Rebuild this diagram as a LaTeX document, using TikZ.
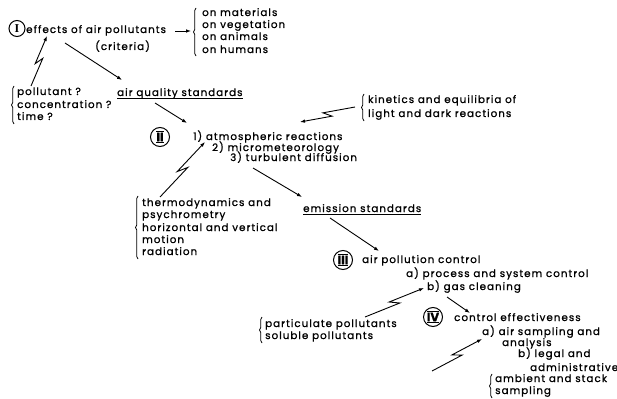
\documentclass[tikz,border=0pt]{standalone}
\usepackage{fontspec}
\setmainfont{Poppins}[LetterSpace=10,FakeBold=1]
\newfontfamily\romfont{Liberation Serif}
\usetikzlibrary{calc,arrows.meta,decorations.pathreplacing}
\newcommand{\barnum}[1]{$\overline{\underline{\mathbf{#1}}}$}
\tikzset{
  txt/.style={anchor=base west,inner sep=0pt,font=\fontsize{10.3}{11}\selectfont},
  rom/.style={circle,draw,line width=1pt,inner sep=0pt,minimum width=#1,minimum height=#1,font=\fontsize{12}{12}\selectfont},
  arr/.style={line width=0.9pt,-{Latex[length=5pt,width=3.6pt]}},
  bolt/.style={line width=0.9pt,-{Latex[length=5pt,width=3.6pt]},to path={
    -- ($(\tikztostart)!0.57!(\tikztotarget)!2.8pt!-90:(\tikztotarget)$)
    -- ($(\tikztostart)!0.43!(\tikztotarget)!2.8pt!90:(\tikztotarget)$)
    -- (\tikztotarget)}},
  brc/.style={line width=0.8pt,decorate,decoration={brace,amplitude=2.5pt}},
  ul/.style={line width=0.8pt}
}
\begin{document}
\begin{tikzpicture}[x=1pt,y=-1pt]
\useasboundingbox[fill=white] (0,0) rectangle (617,398);
% I
\node[rom=16pt] (cI) at (17,28.5) {\romfont\bfseries I};
\node[txt] (eff) at (26,33) {effects of air pollutants};
\node[txt] (crit) at (95,50) {(criteria)};
\node[txt] (mat) at (202,16) {on materials};
\node[txt] (veg) at (202,28) {on vegetation};
\node[txt] (ani) at (202,40) {on animals};
\node[txt] (hum) at (202,53) {on humans};
\draw[brc] (196,56) -- (196,8);
\node[txt] (pol) at (17,95) {pollutant ?};
\node[txt] (conc) at (17,108) {concentration ?};
\node[txt] (tim) at (17,120) {time ?};
\draw[brc] (14,124) -- (14,86);
\node[txt] (aqs) at (117,96) {air quality standards};
\draw[ul] ([yshift=-2.5pt]aqs.base west) -- ([yshift=-2.5pt]aqs.base east);
% II
\node[rom=19pt] (cII) at (160,137) {\barnum{II}};
\node[txt] (r1) at (193,140) {1) atmospheric reactions};
\node[txt] (r2) at (212,151) {2) micrometeorology};
\node[txt] (r3) at (230,161) {3) turbulent diffusion};
\node[txt] (kin) at (368,103) {kinetics and equilibria of};
\node[txt] (lig) at (368,117) {light and dark reactions};
\draw[brc] (364,121) -- (364,94);
\node[txt] (th1) at (142,206) {thermodynamics and};
\node[txt] (th2) at (142,218) {psychrometry};
\node[txt] (th3) at (142,231) {horizontal and vertical};
\node[txt] (th4) at (142,243) {motion};
\node[txt] (th5) at (142,255) {radiation};
\draw[brc] (138,259) -- (138,196);
\node[txt] (ems) at (303,212) {emission standards};
\draw[ul] ([yshift=-2.5pt]ems.base west) -- ([yshift=-2.5pt]ems.base east);
% III
\node[rom=19pt] (cIII) at (343,260) {\barnum{III}};
\node[txt] (apc) at (362,263) {air pollution control};
\node[txt] (pa) at (406,277) {a) process and system control};
\node[txt] (pb) at (427,290) {b) gas cleaning};
\node[txt] (par) at (265,327) {particulate pollutants};
\node[txt] (sol) at (265,339) {soluble pollutants};
\draw[brc] (262,343) -- (262,317);
% IV
\node[rom=19pt] (cIV) at (433,317) {\barnum{IV}};
\node[txt] (ce) at (454,321) {control effectiveness};
\node[txt] (ca) at (482,335) {a) air sampling and};
\node[txt] (can) at (502,346) {analysis};
\node[txt] (cb) at (518,357) {b) legal and};
\node[txt] (cad) at (530,371) {administrative};
\node[txt] (amb) at (495,382) {ambient and stack};
\node[txt] (smp) at (495,394) {sampling};
\draw[brc] (492,398) -- (492,374);
% connector ends
\coordinate (e1a) at (175,31); \coordinate (e1b) at (191,31);
\coordinate (e2a) at (65,43);  \coordinate (e2b) at (122,80);
\coordinate (b1a) at (31,86);  \coordinate (b1b) at (47,36);
\coordinate (e3a) at (155,103); \coordinate (e3b) at (187,123);
\coordinate (b2a) at (160,197); \coordinate (b2b) at (205,142);
\coordinate (b3a) at (355,107); \coordinate (b3b) at (300,122);
\coordinate (e4a) at (253,168); \coordinate (e4b) at (302,197);
\coordinate (e5a) at (330,218); \coordinate (e5b) at (379,251);
\coordinate (b4a) at (365,317); \coordinate (b4b) at (424,288);
\coordinate (e6a) at (447,297); \coordinate (e6b) at (470,313);
\coordinate (b5a) at (432,371); \coordinate (b5b) at (482,339);
\draw[arr] (e1a) -- (e1b);
\draw[arr] (e2a) -- (e2b);
\draw[bolt] (b1a) to (b1b);
\draw[arr] (e3a) -- (e3b);
\draw[bolt] (b2a) to (b2b);
\draw[bolt] (b3a) to (b3b);
\draw[arr] (e4a) -- (e4b);
\draw[arr] (e5a) -- (e5b);
\draw[bolt] (b4a) to (b4b);
\draw[arr] (e6a) -- (e6b);
\draw[bolt] (b5a) to (b5b);
\end{tikzpicture}
\end{document}
